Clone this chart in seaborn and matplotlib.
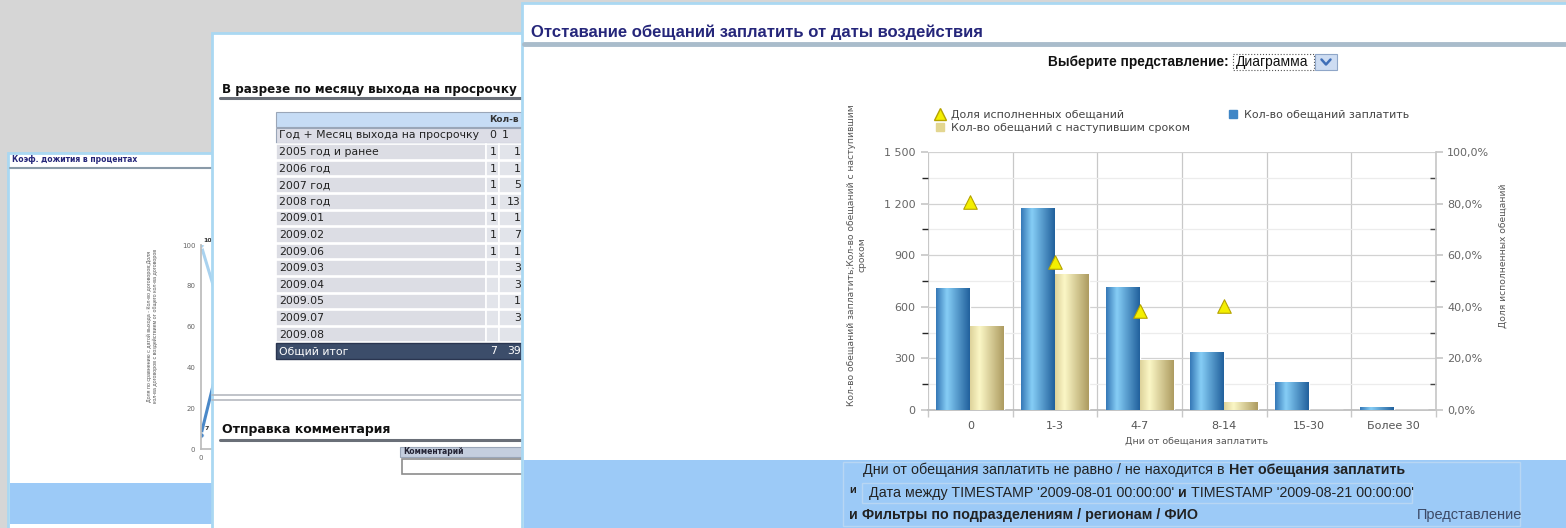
import numpy as np
import pandas as pd
import matplotlib
matplotlib.use("Agg")
import matplotlib.pyplot as plt
import matplotlib.ticker as mticker
from matplotlib.patches import Rectangle
from matplotlib.lines import Line2D
from matplotlib.colors import LinearSegmentedColormap
import seaborn as sns

W, H = 1566, 528

# main chart: days from promise to pay
days = ["0", "1-3", "4-7", "8-14", "15-30", "Более 30"]
promises = [708, 1174, 714, 336, 165, 19]
promises_due = [491, 792, 291, 48, 0, 0]
share_days = ["0", "1-3", "4-7", "8-14"]
share_done = [80.5, 57.5, 38.3, 40.3]

s_share = "Доля исполненных обещаний"
s_promises = "Кол-во обещаний заплатить"
s_due = "Кол-во обещаний с наступившим сроком"

# left window mini line chart (mostly hidden)
surv_x = [0, 1]
surv_share = [100, 35]
surv_contracts = [7, 87]
surv_ticks = [0, 20, 40, 60, 80, 100]

# middle window table
table_rows = ["2005 год и ранее", "2006 год", "2007 год", "2008 год", "2009.01", "2009.02",
              "2009.06", "2009.03", "2009.04", "2009.05", "2009.07", "2009.08"]
col_0 = ["1", "1", "1", "1", "1", "1", "1", "", "", "", "", ""]
col_1 = ["1", "1", "5", "13", "1", "7", "1", "3", "3", "1", "3", ""]
total_0, total_1 = "7", "39"

SANS = ["Liberation Sans", "DejaVu Sans"]
NAVY = "#25267a"
BORDER = "#aad8f2"
BAND = "#9ccaf7"

sns.set_theme(style="white")
plt.rcParams["font.family"] = ["DejaVu Sans"]

fig = plt.figure(figsize=(W / 100, H / 100), dpi=100)
fig.patch.set_facecolor("#d6d6d6")


def overlay(z):
    a = fig.add_axes([0, 0, 1, 1], zorder=z)
    a.set_xlim(0, W)
    a.set_ylim(H, 0)
    a.axis("off")
    return a


def box(a, x, y, w, h, fc, ec="none", lw=1.0, z=1, ls="-"):
    a.add_patch(Rectangle((x, y), w, h, facecolor=fc, edgecolor=ec, lw=lw, zorder=z, ls=ls))


def chain(a, x, y, parts, size, color="#222", gap=3):
    # write text pieces one after another, switching bold on and off
    prev = None
    for s, bold in parts:
        kw = dict(fontsize=size, fontweight="bold" if bold else "normal", color=color,
                  va="center", family=SANS)
        if prev is None:
            prev = a.text(x, y, s, **kw)
        else:
            prev = a.annotate(s, xy=(1, 0.5), xycoords=prev, xytext=(gap, 0),
                              textcoords="offset points", ha="left", **kw)
    return prev


# ---------------- left window ----------------
axl = overlay(1)
box(axl, 8, 153, 210, 380, "white", BORDER, 2)
axl.text(12, 160, "Коэф. дожития в процентах", fontsize=5.5, fontweight="bold", color=NAVY, va="center")
axl.plot([10, 215], [168, 168], color="#8a9aa8", lw=1.5)
box(axl, 10, 483, 205, 41, BAND)
axl.text(152, 326, "Доля по сравнению с датой выхода - Кол-во договоров;Доля\n"
         "кол-ва договоров с воздействием от общего кол-ва договоров",
         rotation=90, fontsize=3.8, color="#555", ha="center", va="center", family=SANS)

axm = fig.add_axes([201 / W, 1 - 449 / H, 60 / W, 204 / H], zorder=2)
sns.lineplot(x=surv_x, y=surv_share, color="#a9d2ef", lw=2.2, marker="o", ms=4, ax=axm)
sns.lineplot(x=surv_x, y=surv_contracts, color="#4a88c8", lw=2.2, marker="o", ms=4, ax=axm)
axm.set_xlim(0, 1.5)
axm.set_ylim(0, 100)
axm.set_yticks(surv_ticks)
axm.set_xticks([0])
axm.tick_params(labelsize=5, colors="#666", length=3, pad=1)
for sp in ["top", "right"]:
    axm.spines[sp].set_visible(False)
for sp in ["left", "bottom"]:
    axm.spines[sp].set_color("#bbb")
axm.patch.set_alpha(0)
axm.text(0.05, 101, "100", fontsize=4.5, fontweight="bold", color="#333", va="bottom")
axm.text(0.08, 9, "7", fontsize=4.5, fontweight="bold", color="#333", va="bottom")

# ---------------- middle window ----------------
axc = overlay(3)
box(axc, 212, 33, 312, 500, "white", BORDER, 2)
axc.text(222, 89, "В разрезе по месяцу выхода на просрочку", fontsize=8.6, fontweight="bold",
         color="#111", va="center")
axc.plot([220, 524], [98, 98], color="#6a6f78", lw=2.2)

tx0, tc0, tc1, tx1 = 276, 486, 499, 524
tfs = 7.8
box(axc, tx0, 112, tx1 - tx0, 15, "#c6dcf5", "#9aa6b8", 0.8)
axc.text(489, 119.5, "Кол-в", fontsize=6.5, fontweight="bold", color="#333", va="center")
box(axc, tx0, 128, tx1 - tx0, 15, "#dcdde6", "#9aa6b8", 0.8)
axc.text(279, 135.5, "Год + Месяц выхода на просрочку", fontsize=tfs, color="#222", va="center")
axc.text(489, 135.5, "0", fontsize=tfs, color="#222", va="center")
axc.text(502, 135.5, "1", fontsize=tfs, color="#222", va="center")
for i, label in enumerate(table_rows):
    yc = 152 + 16.6 * i
    box(axc, tx0, yc - 7.8, tc0 - tx0, 15.6, "#dcdde4", "white", 1.2)
    box(axc, tc0, yc - 7.8, tc1 - tc0, 15.6, "#e2e4ea", "white", 1.2)
    box(axc, tc1, yc - 7.8, tx1 - tc1, 15.6, "#e2e4ea", "white", 1.2)
    axc.text(279, yc, label, fontsize=tfs, color="#222", va="center")
    axc.text(tc1 - 2, yc, col_0[i], fontsize=tfs, color="#222", va="center", ha="right")
    axc.text(tx1 - 3, yc, col_1[i], fontsize=tfs, color="#222", va="center", ha="right")
yt = 152 + 16.6 * len(table_rows)
box(axc, tx0, yt - 8, tx1 - tx0, 16, "#3c4d6a", "#2a3550", 1)
axc.text(279, yt, "Общий итог", fontsize=tfs, color="white", va="center")
axc.text(tc1 - 2, yt, total_0, fontsize=tfs, color="white", va="center", ha="right")
axc.text(tx1 - 3, yt, total_1, fontsize=tfs, color="white", va="center", ha="right")

axc.plot([212, 524], [395, 395], color="#b5b9c0", lw=1.2)
axc.plot([212, 524], [400, 400], color="#b5b9c0", lw=1.2)
axc.text(222, 430, "Отправка комментария", fontsize=9, fontweight="bold", color="#111", va="center")
axc.plot([220, 524], [440, 440], color="#6a6f78", lw=2.2)
box(axc, 400, 447, 124, 10, "#c4cede", "#9aa6b8", 0.8)
axc.text(403, 452, "Комментарий", fontsize=5.5, fontweight="bold", color="#223", va="center")
box(axc, 402, 459, 122, 15, "white", "#8c8c8c", 1.2)

# ---------------- right window ----------------
axr = overlay(5)
box(axr, 522, 3, 1050, 530, "white", BORDER, 2)
axr.text(531, 32, "Отставание обещаний заплатить от даты воздействия", fontsize=12,
         fontweight="bold", color=NAVY, va="center", family=SANS)
axr.plot([524, W], [44, 44], color="#a9bccb", lw=3.5)
axr.text(1229, 62, "Выберите представление:", fontsize=9.8, fontweight="bold", color="#111",
         va="center", ha="right", family=SANS)
box(axr, 1233, 54, 81, 16, "white", "#555", 0.8, ls=":")
axr.text(1236, 62, "Диаграмма", fontsize=10, color="#111", va="center", family=SANS)
box(axr, 1315, 54, 22, 16, "#cddcf2", "#8fa6c8", 0.8)
axr.plot([1321.5, 1326, 1330.5], [59.5, 64.5, 59.5], color="#3f6fb8", lw=1.8)

box(axr, 524, 460, 1045, 70, BAND)
box(axr, 843, 462, 677, 64, "none", "#b8d6f3", 1)
box(axr, 862, 483, 550, 20, "none", "#b8d6f3", 1)
chain(axr, 863, 470, [("Дни от обещания заплатить не равно / не находится в", False),
                      ("Нет обещания заплатить", True)], 10.3)
axr.text(849, 490, "и", fontsize=8, fontweight="bold", color="#222", va="center", family=SANS)
chain(axr, 869, 493, [("Дата между TIMESTAMP '2009-08-01 00:00:00'", False), ("и", True),
                      ("TIMESTAMP '2009-08-21 00:00:00'", False)], 10.3)
chain(axr, 849, 515, [("и", True), ("Фильтры по подразделениям / регионам / ФИО", True)], 10.3)
axr.text(1417, 515, "Представление", fontsize=10.5, color="#3c4a66", va="center", family=SANS)

# ---------------- main chart ----------------
df = pd.DataFrame({
    "days": days * 2,
    "value": promises + promises_due,
    "series": [s_promises] * len(days) + [s_due] * len(days),
})

ax = fig.add_axes([928 / W, 1 - 410 / H, 508 / W, 258 / H], zorder=10)
sns.barplot(data=df, x="days", y="value", hue="series", order=days,
            hue_order=[s_promises, s_due], palette=["#3f86c6", "#e3d690"],
            width=0.8, saturation=1, legend=False, ax=ax, zorder=3)

blue_cmap = LinearSegmentedColormap.from_list(
    "blue", [(0, "#3578b6"), (0.32, "#86cef6"), (1, "#21609c")])
tan_cmap = LinearSegmentedColormap.from_list(
    "tan", [(0, "#ddd29a"), (0.28, "#fbf7c6"), (1, "#ad9b60")])
grad = np.linspace(0, 1, 128).reshape(1, -1)
for cont, cmap in zip(ax.containers, [blue_cmap, tan_cmap]):
    for bar in cont:
        h = bar.get_height()
        if h <= 0:
            continue
        x0 = bar.get_x()
        im = ax.imshow(grad, extent=[x0, x0 + bar.get_width(), 0, h], aspect="auto",
                       cmap=cmap, origin="lower", zorder=3.5, interpolation="bicubic")
        im.set_clip_path(bar)

ax.set_xlim(-0.5, len(days) - 0.5)
ax.set_ylim(0, 1500)
ax.set_yticks(np.arange(0, 1501, 300))
ax.yaxis.set_minor_locator(mticker.MultipleLocator(150))
ax.yaxis.set_major_formatter(mticker.FuncFormatter(lambda v, p: f"{int(v):,}".replace(",", " ")))
ax.set_xticks(range(len(days)))
ax.set_xticklabels(days)
ax.xaxis.set_minor_locator(mticker.FixedLocator(np.arange(-0.5, len(days), 1.0)))
ax.grid(axis="y", which="major", color="#d2d2d2", lw=0.9, zorder=0)
ax.grid(axis="y", which="minor", color="#ececec", lw=0.9, zorder=0)
ax.grid(axis="x", which="minor", color="#c8c8c8", lw=0.9, zorder=0)
ax.set_axisbelow(True)
ax.tick_params(axis="y", which="major", left=True, length=5, color="#c8c8c8",
               labelsize=8, labelcolor="#666", pad=4)
ax.tick_params(axis="y", which="minor", left=False, right=False)
ax.tick_params(axis="x", which="major", bottom=False, labelsize=8, labelcolor="#555", pad=2)
ax.tick_params(axis="x", which="minor", bottom=True, length=5, color="#c8c8c8")
ax.set_xlabel("")
ax.set_ylabel("")
for sp in ["top", "right", "left"]:
    ax.spines[sp].set_visible(False)
ax.spines["bottom"].set_color("#bcbcbc")
ax.patch.set_alpha(0)

ax2 = ax.twinx()
ax2.set_zorder(11)
sns.scatterplot(x=[days.index(d) for d in share_days], y=share_done, marker="^", s=95,
                color="#f4ef00", edgecolor="#b5a300", linewidth=0.8, ax=ax2, zorder=6,
                legend=False)
ax2.set_xlim(-0.5, len(days) - 0.5)
ax2.set_ylim(0, 100)
ax2.set_yticks(np.arange(0, 101, 20))
ax2.yaxis.set_minor_locator(mticker.MultipleLocator(10))
ax2.yaxis.set_major_formatter(mticker.FuncFormatter(lambda v, p: f"{v:.1f}%".replace(".", ",")))
ax2.tick_params(axis="y", which="major", left=False, right=True, length=5, color="#c8c8c8",
                labelsize=8, labelcolor="#666", pad=3)
ax2.tick_params(axis="y", which="minor", left=False, right=True, direction="in", length=4,
                color="#444", width=1)
ax2.set_ylabel("")
for sp in ["top", "left", "bottom"]:
    ax2.spines[sp].set_visible(False)
ax2.spines["right"].set_color("#c8c8c8")
ax2.grid(False)

fig.text(857 / W, 1 - 255 / H, "Кол-во обещаний заплатить;Кол-во обещаний с наступившим\nсроком",
         rotation=90, ha="center", va="center", multialignment="center",
         fontsize=6.6, color="#555", zorder=12)
fig.text(1503 / W, 1 - 256 / H, s_share, rotation=90, ha="center", va="center",
         fontsize=6.6, color="#555", zorder=12)
fig.text(1197 / W, 1 - 441 / H, "Дни от обещания заплатить", ha="center", va="center",
         fontsize=6.8, color="#555", zorder=12)

handles = [
    Line2D([], [], marker="^", ls="none", ms=9, color="#f4ef00", markeredgecolor="#b5a300"),
    Line2D([], [], marker="s", ls="none", ms=6, color="#e3d690"),
    Line2D([], [], marker="s", ls="none", ms=6, color="#3f86c6"),
]
leg = ax2.legend(handles, [s_share, s_due, s_promises], ncol=2, loc="upper left",
                 bbox_to_anchor=(935 / W, 1 - 110 / H), bbox_transform=fig.transFigure,
                 frameon=False, fontsize=7.9, handlelength=1.0, handletextpad=0.5,
                 labelspacing=0.25, columnspacing=3.4, borderaxespad=0, borderpad=0)
for t in leg.get_texts():
    t.set_color("#444")

fig.savefig("out.png", dpi=100)
